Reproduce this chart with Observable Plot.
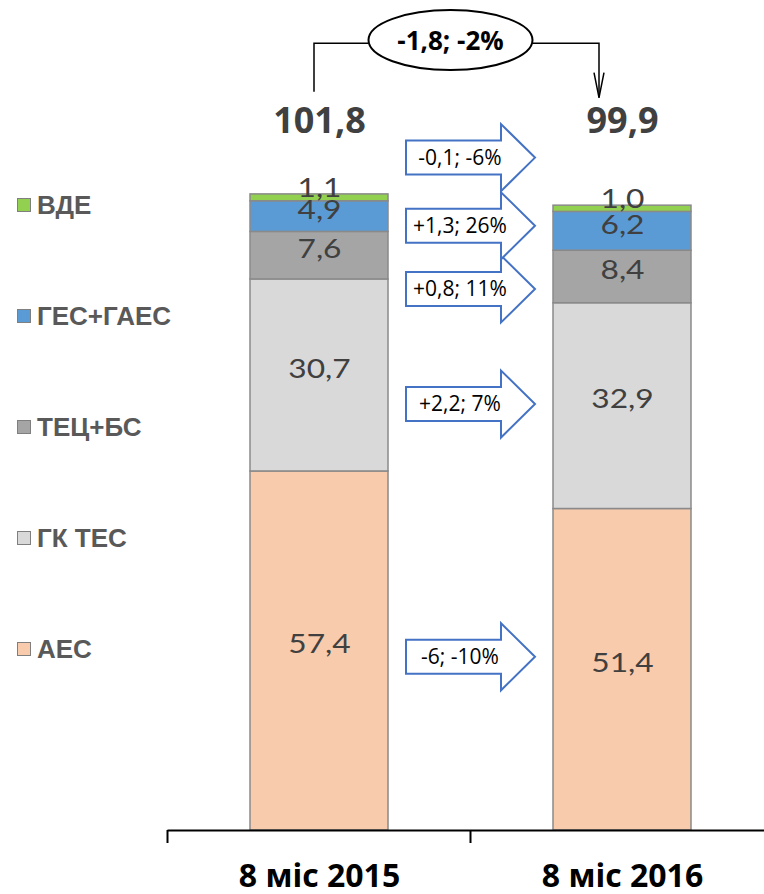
<!DOCTYPE html>
<html><head><meta charset="utf-8">
<script src="https://cdn.jsdelivr.net/npm/d3@7"></script>
<script src="https://cdn.jsdelivr.net/npm/@observablehq/plot@0.6"></script>
<style>
html,body{margin:0;padding:0;background:#fff;}
#wrap{position:relative;width:764px;height:894px;overflow:hidden;}
#legend{position:absolute;left:0;top:0;width:165px;height:894px;}
.li{position:absolute;left:17px;height:26px;line-height:26px;display:flex;align-items:center;font-family:"Liberation Sans",Arial,sans-serif;font-weight:bold;font-size:26px;color:#595959;white-space:nowrap;}
.sw{width:12px;height:12px;border:1.5px solid #7f7f7f;margin-right:6px;flex:none;}
</style></head><body><div id="wrap"><div id="legend"></div></div>
<script>
// ---- data ----
const categories = ["8 міс 2015", "8 міс 2016"];
const sources = ["АЕС", "ГК ТЕС", "ТЕЦ+БС", "ГЕС+ГАЕС", "ВДЕ"]; // bottom to top
const values2015 = [57.4, 30.7, 7.6, 4.9, 1.1];
const values2016 = [51.4, 32.9, 8.4, 6.2, 1.0];
const totals = [101.8, 99.9];
const changeLabels = ["-6; -10%", "+2,2; 7%", "+0,8; 11%", "+1,3; 26%", "-0,1; -6%"];
const totalChangeLabel = "-1,8; -2%";

// ---- styles / layout ----
const colors = ["#f8cbad", "#d9d9d9", "#a5a5a5", "#5b9bd5", "#92d050"];
const arrowLevels = [27.7, 68.1, 86.5, 96.6, 107.5]; // annotation heights (value units)
const headlineLevel = 113.4;
const bracketLevel = 125.8;
const ellipseLevel = 126.3;
const FONT = "'Open Sans', 'Noto Sans', sans-serif";
const LABFONT = "Lato, 'Open Sans', sans-serif";

const fmt = v => d3.format(".1f")(v).replace(".", ",");

const rows = [];
categories.forEach((c, ci) => {
  const vals = ci === 0 ? values2015 : values2016;
  let base = 0;
  vals.forEach((v, si) => {
    rows.push({category: c, source: sources[si], value: v, mid: base + v / 2});
    base += v;
  });
});
const topSource = sources[sources.length - 1];

const chart = Plot.plot({
  width: 764, height: 894,
  marginLeft: 167.5, marginRight: 0, marginTop: 0, marginBottom: 64,
  x: {type: "band", domain: categories, range: [167.5, 773.5], paddingInner: 0.545, paddingOuter: 0.2725, align: 0.5, axis: null},
  y: {domain: [0, 132.7], axis: null},
  color: {domain: sources, range: colors},
  style: {background: "transparent", overflow: "visible"},
  marks: [
    Plot.barY(rows, Plot.stackY({x: "category", y: "value", fill: "source", stroke: "#8a8a8a", strokeWidth: 1.5})),
    Plot.ruleY([0], {stroke: "#000", strokeWidth: 2}),
    Plot.text(rows.filter(d => d.source !== topSource), {x: "category", y: "mid", text: d => fmt(d.value), dy: -6, fontSize: 26, fontFamily: LABFONT, fill: "#404040", className: "seglab"}),
    Plot.text(rows.filter(d => d.source === topSource), {x: "category", y: "mid", text: d => fmt(d.value), dy: -9, fontSize: 26, fontFamily: LABFONT, fill: "#404040", className: "seglab"}),
    Plot.text(categories, {x: d => d, y: headlineLevel, text: (d, i) => fmt(totals[i]), fontSize: 36, fontWeight: 700, fontFamily: FONT, fill: "#404040"}),
    Plot.text(categories, {x: d => d, y: 0, dy: 46, text: d => d, fontSize: 32, fontWeight: 700, fontFamily: FONT, fill: "#000"})
  ]
});
document.getElementById("wrap").appendChild(chart);

// widen segment labels horizontally (reference text is stretched)
d3.select(chart).selectAll(".seglab text").each(function() {
  const el = d3.select(this);
  const t = el.attr("transform") || "";
  const m = /translate\(([^,\s]+)[,\s]+([^)]+)\)/.exec(t);
  if (m) el.attr("transform", t + " scale(1.22,1)");
  else {
    const x = +el.attr("x") || 0, y = +el.attr("y") || 0;
    el.attr("transform", `translate(${x},${y}) scale(1.22,1) translate(${-x},${-y})`);
  }
});

// ---- annotations through the plot's own scales ----
const xs = chart.scale("x"), ys = chart.scale("y");
const bw = xs.bandwidth;
const X = c => xs.apply(c);
const Y = v => ys.apply(v);
const svg = d3.select(chart);
const g = svg.append("g");

const c0 = X(categories[0]) + bw / 2, c1 = X(categories[1]) + bw / 2;
const step = c1 - c0;

// category separator ticks (band boundaries)
const y0 = Y(0);
[c0 - step / 2, c0 + step / 2, c1 + step / 2].forEach(tx => {
  g.append("line").attr("x1", tx).attr("x2", tx).attr("y1", y0).attr("y2", y0 + 13).attr("stroke", "#000").attr("stroke-width", 2);
});

// block arrows
const ax0 = X(categories[0]) + bw + 18, axTip = X(categories[1]) - 18, headLen = 34, bodyH = 17, headH = 33.5;
arrowLevels.forEach((lv, i) => {
  const cy = Y(lv);
  const pts = [[ax0, cy - bodyH], [axTip - headLen, cy - bodyH], [axTip - headLen, cy - headH], [axTip, cy],
               [axTip - headLen, cy + headH], [axTip - headLen, cy + bodyH], [ax0, cy + bodyH]];
  g.append("path").attr("d", "M" + pts.map(p => p.join(",")).join("L") + "Z")
    .attr("fill", "#fff").attr("stroke", "#4472c4").attr("stroke-width", 2).attr("stroke-linejoin", "miter");
  g.append("text").attr("x", ax0 + 54).attr("y", cy).attr("dy", "0.33em").attr("text-anchor", "middle")
    .attr("font-family", FONT).attr("font-size", 21).attr("fill", "#000").text(changeLabels[i]);
});

// bracket with ellipse
const ex = (c0 + c1) / 2 - 20, ey = Y(ellipseLevel), rx = 82, ry = 30;
const by = Y(bracketLevel), hy = Y(headlineLevel);
const lx = c0 - 5, rxp = c1 - 23;
g.append("path").attr("d", `M${lx},${hy - 29}V${by}H${ex - rx}`).attr("fill", "none").attr("stroke", "#000").attr("stroke-width", 1.5);
g.append("path").attr("d", `M${ex + rx},${by}H${rxp}V${hy - 23}`).attr("fill", "none").attr("stroke", "#000").attr("stroke-width", 1.5);
g.append("path").attr("d", `M${rxp - 5},${hy - 48}L${rxp},${hy - 23}L${rxp + 5},${hy - 48}`).attr("fill", "none").attr("stroke", "#000").attr("stroke-width", 1.5);
g.append("ellipse").attr("cx", ex).attr("cy", ey).attr("rx", rx).attr("ry", ry).attr("fill", "#fff").attr("stroke", "#000").attr("stroke-width", 2);
g.append("text").attr("x", ex).attr("y", ey + 1).attr("dy", "0.33em").attr("text-anchor", "middle")
  .attr("font-family", FONT).attr("font-size", 26).attr("font-weight", 700).attr("fill", "#000").text(totalChangeLabel);

// ---- legend (left) ----
const legend = d3.select("#legend");
sources.slice().reverse().forEach((s, i) => {
  const item = legend.append("div").attr("class", "li").style("top", (205 + i * 111 - 13) + "px");
  item.append("div").attr("class", "sw").style("background", colors[sources.indexOf(s)]);
  item.append("span").text(s);
});
</script>
</body></html>
